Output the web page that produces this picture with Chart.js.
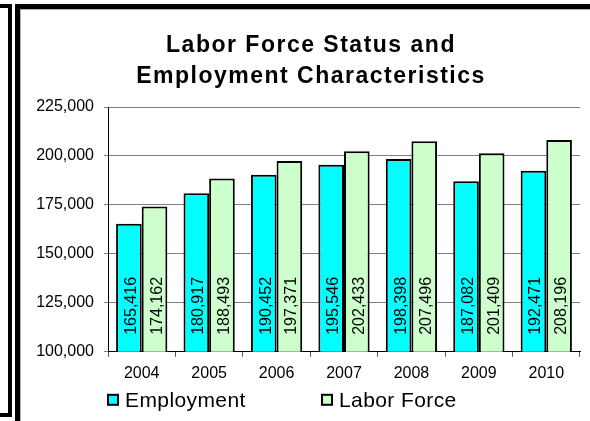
<!DOCTYPE html>
<html>
<head>
<meta charset="utf-8">
<title>Labor Force Status and Employment Characteristics</title>
<script src="https://cdn.jsdelivr.net/npm/chart.js@4.4.1/dist/chart.umd.min.js"></script>
<style>
  html, body { margin: 0; padding: 0; background: #fff; }
  #wrap { position: relative; width: 590px; height: 421px; overflow: hidden; }
  #wrap canvas { position: absolute; left: 0; top: 0; }
  .frame { position: absolute; background: #000; }
  .shade { position: absolute; background: #b0b0b0; }
</style>
</head>
<body>
<div id="wrap">
  <canvas id="labor-force-chart" width="590" height="421"></canvas>
  <!-- edge of the neighbouring panel -->
  <div class="frame" style="left:0;top:4px;width:12px;height:4px"></div>
  <div class="frame" style="left:8px;top:4px;width:4px;height:413px"></div>
  <div class="frame" style="left:0;top:413px;width:12px;height:4px"></div>
  <!-- chart frame -->
  <div class="frame" style="left:15px;top:4px;width:575px;height:5px"></div>
  <div class="frame" style="left:15px;top:4px;width:5px;height:417px"></div>
  <div class="shade" style="left:20px;top:9px;width:570px;height:1px"></div>
  <div class="shade" style="left:20px;top:9px;width:1px;height:412px"></div>
</div>
<script>
const years = ["2004", "2005", "2006", "2007", "2008", "2009", "2010"];
const employment = [165416, 180917, 190452, 195546, 198398, 187082, 192471];
const laborForce = [174162, 188493, 197371, 202433, 207496, 201409, 208196];
const seriesNames = ["Employment", "Labor Force"];
const seriesColors = ["#00FFFF", "#CCFFCC"];
const titleLines = ["Labor Force Status and", "Employment Characteristics"];
const yMin = 100000;
const yMax = 225000;
const yStep = 25000;

const fmt = (v) => Number(v).toLocaleString("en-US");

Chart.defaults.color = "#000";
Chart.defaults.font.family = "'Liberation Sans', Arial, sans-serif";

// two-line bold heading
const headingPlugin = {
  id: "heading",
  afterDraw(chart) {
    const ctx = chart.ctx;
    ctx.save();
    ctx.font = "bold 23px 'Liberation Sans', Arial, sans-serif";
    if ("letterSpacing" in ctx) ctx.letterSpacing = "1.5px";
    ctx.fillStyle = "#000";
    ctx.textAlign = "center";
    ctx.textBaseline = "middle";
    const cx = chart.width / 2 + 16;
    titleLines.forEach((line, i) => {
      ctx.fillText(line, cx, 46 + i * 31);
    });
    ctx.restore();
  },
};

// value labels, rotated, sitting just above the base of each bar
const barLabelPlugin = {
  id: "barLabels",
  afterDraw(chart) {
    const ctx = chart.ctx;
    const base = chart.scales.y.getPixelForValue(yMin);
    ctx.save();
    ctx.font = "16px 'Liberation Sans', Arial, sans-serif";
    ctx.fillStyle = "#000";
    ctx.textAlign = "left";
    ctx.textBaseline = "alphabetic";
    chart.data.datasets.forEach((ds, di) => {
      const bars = chart.getDatasetMeta(di).data;
      bars.forEach((bar, i) => {
        const { x } = bar.getProps(["x"], true);
        ctx.save();
        ctx.translate(x, base - 17);
        ctx.rotate(-Math.PI / 2);
        ctx.fillText(fmt(ds.data[i]), 0, 7);
        ctx.restore();
      });
    });
    ctx.restore();
  },
};

// legend row under the axis labels
const legendRowPlugin = {
  id: "legendRow",
  afterDraw(chart) {
    const ctx = chart.ctx;
    const area = chart.chartArea;
    const y = area.bottom + 48;
    const starts = [area.left - 1, area.left + 213];
    ctx.save();
    ctx.font = "21px 'Liberation Sans', Arial, sans-serif";
    if ("letterSpacing" in ctx) ctx.letterSpacing = "0.4px";
    ctx.textBaseline = "middle";
    ctx.textAlign = "left";
    chart.data.datasets.forEach((ds, i) => {
      const x = starts[i];
      ctx.fillStyle = ds.backgroundColor;
      ctx.fillRect(x + 1, y - 5, 10, 10);
      ctx.strokeStyle = "#000";
      ctx.lineWidth = 2;
      ctx.strokeRect(x + 1, y - 5, 10, 10);
      ctx.fillStyle = "#000";
      ctx.fillText(ds.label, x + 18, y + 1);
    });
    ctx.restore();
  },
};

new Chart(document.getElementById("labor-force-chart"), {
  type: "bar",
  data: {
    labels: years,
    datasets: [
      {
        label: seriesNames[0],
        data: employment,
        backgroundColor: seriesColors[0],
        borderColor: "#000",
        borderWidth: 2,
        borderSkipped: false,
        categoryPercentage: 0.76,
        barPercentage: 1.0,
      },
      {
        label: seriesNames[1],
        data: laborForce,
        backgroundColor: seriesColors[1],
        borderColor: "#000",
        borderWidth: 2,
        borderSkipped: false,
        categoryPercentage: 0.76,
        barPercentage: 1.0,
      },
    ],
  },
  options: {
    responsive: false,
    animation: false,
    layout: {
      padding: { left: 20, right: 10, top: 107, bottom: 31 },
    },
    plugins: {
      legend: { display: false },
      title: { display: false },
      tooltip: { enabled: false },
    },
    scales: {
      x: {
        grid: {
          drawOnChartArea: false,
          drawTicks: true,
          tickLength: 5,
          color: "#555",
        },
        border: { color: "#000", width: 1 },
        ticks: {
          padding: 7,
          font: { size: 16 },
        },
      },
      y: {
        min: yMin,
        max: yMax,
        afterFit: (scale) => {
          scale.width = 88;
        },
        grid: {
          color: "#808080",
          tickLength: 4,
        },
        border: { color: "#000", width: 1 },
        ticks: {
          stepSize: yStep,
          padding: 10,
          font: { size: 16 },
          callback: (v) => fmt(v),
        },
      },
    },
  },
  plugins: [headingPlugin, barLabelPlugin, legendRowPlugin],
});
</script>
</body>
</html>
